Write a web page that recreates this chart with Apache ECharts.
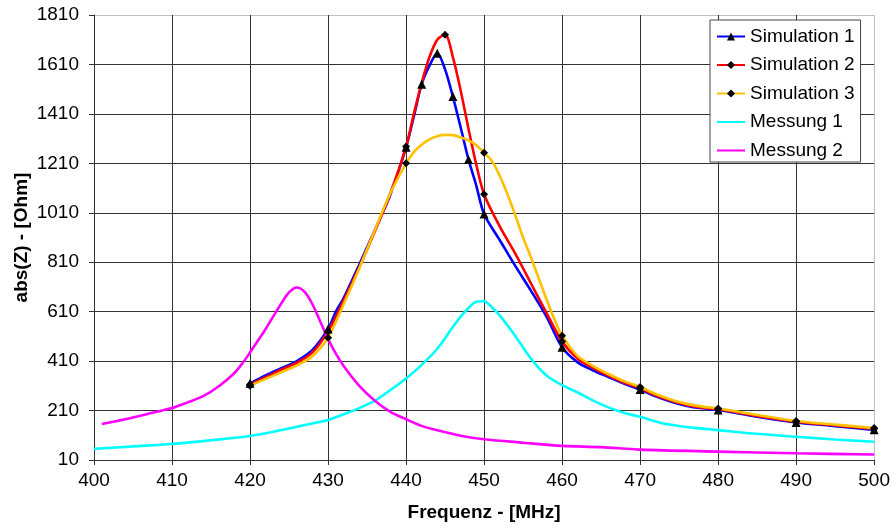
<!DOCTYPE html>
<html>
<head>
<meta charset="utf-8">
<script src="https://cdn.jsdelivr.net/npm/echarts@6/dist/echarts.min.js"></script>
<style>
  html, body { margin: 0; padding: 0; background: #fff; }
  #chart { width: 893px; height: 528px; }
</style>
</head>
<body>
<div id="chart"></div>
<script>
// frequencies in MHz, impedance in Ohm
var sim1Freq = [420,422,424,426,428,430,431,432,434,436,437,438,440,441,442,443,444,445,446,447,448,449,450,452,454,456,458,460,462,464,466,468,470,472,474,476,478,480,485,490,495,500];
var sim1Abs  = [320,352,381,410,455,540,610,665,800,940,1010,1085,1275,1400,1530,1605,1655,1590,1480,1355,1226,1120,1005,900,795,695,590,466,405,372,345,318,295,268,246,229,219,212,185,162,147,132];
var sim1Marks = [420,430,440,442,444,446,448,450,460,470,480,490,500];

var sim2Freq = [420,422,424,426,428,430,432,434,436,438,440,441,442,443,444,445,446,447,448,449,450,452,454,456,458,460,462,464,466,468,470,472,474,476,478,480,485,490,495,500];
var sim2Abs  = [315,345,375,403,445,530,655,790,935,1090,1278,1410,1535,1640,1710,1730,1640,1505,1350,1205,1085,955,845,725,605,489,420,382,350,322,300,272,250,233,222,215,188,165,150,136];
var sim2Marks = [420,430,440,445,450,460,470,480,490,500];

var sim3Freq = [420,422,424,426,428,430,432,434,436,438,440,441,442,443,444,445,446,447,448,449,450,451,452,453,454,455,456,457,458,459,460,462,464,466,468,470,472,474,476,478,480,485,490,495,500];
var sim3Abs  = [310,338,365,393,430,505,640,785,940,1090,1210,1255,1285,1307,1320,1325,1324,1315,1303,1283,1253,1220,1160,1085,1000,910,830,745,660,580,513,430,390,357,328,305,277,254,237,226,218,192,168,153,139];
var sim3Marks = [420,430,440,450,460,470,480,490,500];

var mess1Freq = [400,405,410,415,420,424,428,430,432,434,436,438,440,442,444,446,447,448,449,450,451,452,454,456,458,460,462,464,466,468,470,473,477,480,484,490,495,500];
var mess1Abs  = [55,65,75,90,107,131,158,172,195,220,250,293,340,395,460,548,590,625,650,652,628,595,512,420,352,313,283,250,222,200,185,158,140,131,118,104,93,84];

var mess2Freq = [401,404,408,410,412,414,416,418,419,420,421,422,423,424,425,426,427,428,429,430,431,432,434,436,438,440,442,444,447,450,455,460,465,470,480,490,500];
var mess2Abs  = [156,175,205,220,243,268,308,362,400,445,492,540,592,643,688,708,690,640,570,500,440,390,310,250,205,175,148,130,108,94,80,67,62,52,44,37,32];

var xTicks = { min: 400, max: 500, step: 10 };
var yTicks = { min: 10, max: 1810, step: 200 };

function pairs(freq, vals, marks) {
  return freq.map(function (f, i) {
    var item = { value: [f, vals[i]] };
    if (marks && marks.indexOf(f) < 0) item.symbol = 'none';
    return item;
  });
}

function repeat(c, n, last) {
  var a = [];
  for (var i = 0; i < n; i++) a.push(c);
  a.push(last);
  return a;
}

var font = "'Liberation Sans', Arial, sans-serif";

var chart = echarts.init(document.getElementById('chart'), null, { renderer: 'canvas' });

chart.setOption({
  animation: false,
  backgroundColor: '#fff',
  grid: { left: 94, right: 17, top: 15, bottom: 68 },
  legend: {
    orient: 'vertical',
    left: 710,
    top: 20,
    padding: [6.5, 6, 1.5, 6],
    backgroundColor: '#fff',
    borderColor: '#444',
    borderWidth: 1,
    borderRadius: 0,
    itemWidth: 28,
    itemHeight: 10,
    itemGap: 8.5,
    textStyle: { fontFamily: font, fontSize: 19, lineHeight: 20, color: '#000' },
    data: [
      'Simulation 1', 'Simulation 2', 'Simulation 3',
      { name: 'Messung 1', itemStyle: { opacity: 0 } },
      { name: 'Messung 2', itemStyle: { opacity: 0 } }
    ]
  },
  xAxis: {
    type: 'value',
    min: xTicks.min,
    max: xTicks.max,
    interval: xTicks.step,
    name: 'Frequenz - [MHz]',
    nameLocation: 'middle',
    nameGap: 43,
    nameTextStyle: { fontFamily: font, fontSize: 19, fontWeight: 'bold', color: '#000' },
    axisLine: { lineStyle: { color: '#333', width: 1 } },
    axisTick: { show: true, length: 5, lineStyle: { color: '#333' } },
    axisLabel: { fontFamily: font, fontSize: 19, color: '#000', margin: 11 },
    splitLine: { show: true, lineStyle: { color: repeat('#333', 10, '#c0c0c0'), width: 1 } }
  },
  yAxis: {
    type: 'value',
    min: yTicks.min,
    max: yTicks.max,
    interval: yTicks.step,
    name: 'abs(Z) - [Ohm]',
    nameLocation: 'middle',
    nameGap: 63,
    nameMoveOverlap: false,
    nameTextStyle: { fontFamily: font, fontSize: 19, fontWeight: 'bold', color: '#000' },
    axisLine: { show: true, lineStyle: { color: '#333', width: 1 } },
    axisTick: { show: true, length: 5, lineStyle: { color: '#333' } },
    axisLabel: {
      fontFamily: font, fontSize: 19, color: '#000', margin: 15,
      formatter: function (v) { return String(v); }
    },
    splitLine: { show: true, lineStyle: { color: repeat('#333', 9, '#c0c0c0'), width: 1 } }
  },
  series: [
    {
      name: 'Simulation 1', type: 'line', smooth: 0.3, showAllSymbol: true,
      symbol: 'triangle', symbolSize: 9,
      itemStyle: { color: '#000' },
      lineStyle: { color: '#0000ff', width: 2.6 },
      data: pairs(sim1Freq, sim1Abs, sim1Marks)
    },
    {
      name: 'Simulation 2', type: 'line', smooth: 0.3, showAllSymbol: true,
      symbol: 'diamond', symbolSize: 8,
      itemStyle: { color: '#000' },
      lineStyle: { color: '#ff0000', width: 2.6 },
      data: pairs(sim2Freq, sim2Abs, sim2Marks)
    },
    {
      name: 'Simulation 3', type: 'line', smooth: 0.3, showAllSymbol: true,
      symbol: 'diamond', symbolSize: 8,
      itemStyle: { color: '#000' },
      lineStyle: { color: '#ffc000', width: 2.6 },
      data: pairs(sim3Freq, sim3Abs, sim3Marks)
    },
    {
      name: 'Messung 1', type: 'line', smooth: 0.3,
      symbol: 'none', showSymbol: false,
      itemStyle: { color: '#00ffff' },
      lineStyle: { color: '#00ffff', width: 2.6 },
      data: pairs(mess1Freq, mess1Abs)
    },
    {
      name: 'Messung 2', type: 'line', smooth: 0.3,
      symbol: 'none', showSymbol: false,
      itemStyle: { color: '#ff00ff' },
      lineStyle: { color: '#ff00ff', width: 2.6 },
      data: pairs(mess2Freq, mess2Abs)
    }
  ]
});
</script>
</body>
</html>
